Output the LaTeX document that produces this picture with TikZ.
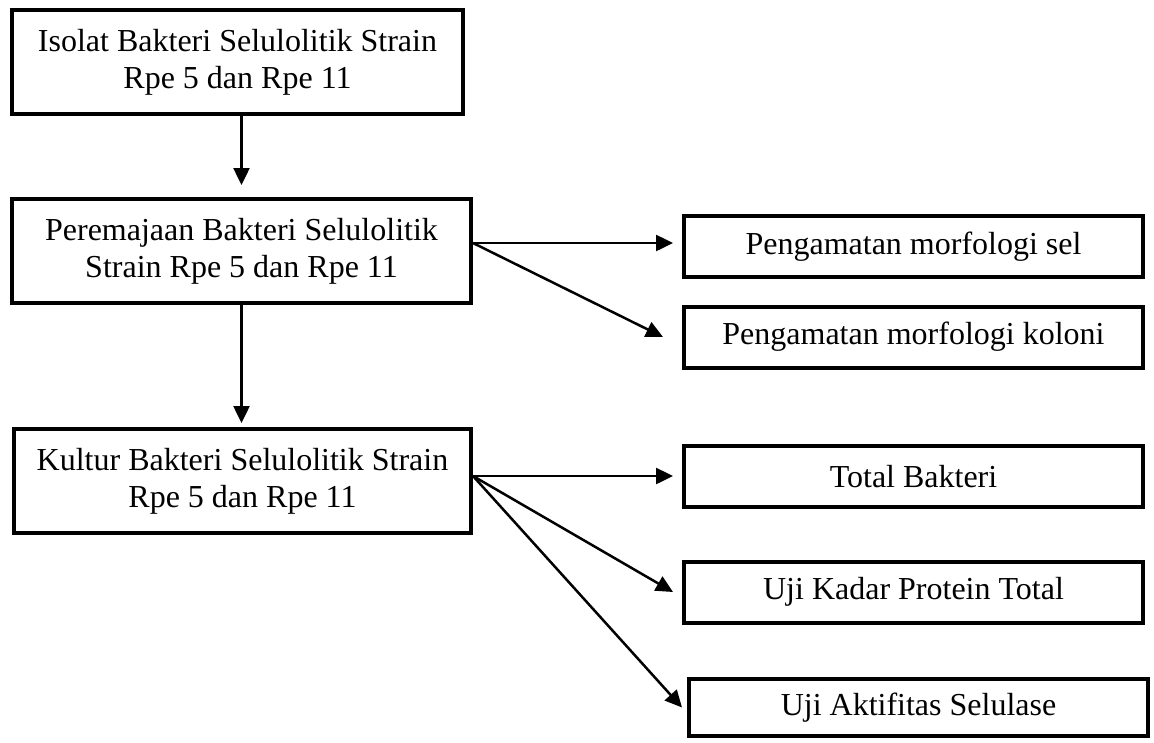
\documentclass[tikz,border=0pt]{standalone}
\usepackage{fontspec}
\setmainfont{Liberation Serif}
\usetikzlibrary{arrows.meta,positioning,calc}
\tikzset{
  flow/.style={-{Triangle[length=17pt,width=16pt]}, line width=2.5pt, draw=black},
  stage/.style={draw=black, fill=white, line width=4pt, align=center, inner sep=3pt,
                font=\fontsize{32}{37}\selectfont},
  mainbox/.style={stage, minimum height=104pt},
  sidebox/.style={stage, minimum width=459pt, minimum height=61pt},
}

\begin{document}
\begin{tikzpicture}[x=1pt,y=-1pt]
    \useasboundingbox (0,0) rectangle (1154,742);
    \node[mainbox,minimum width=451pt] (isolat) at (237.5,62) {Isolat Bakteri Selulolitik Strain\\Rpe 5 dan Rpe 11};
    \node[mainbox,minimum width=459pt] (remaja) at (241.5,251) {Peremajaan Bakteri Selulolitik\\Strain Rpe 5 dan Rpe 11};
    \node[mainbox,minimum width=457pt] (kultur) at (242.5,481) {Kultur Bakteri Selulolitik Strain\\Rpe 5 dan Rpe 11};
    \node[sidebox] (sel) at (913.5,246.5) {Pengamatan morfologi sel};
    \node[sidebox] (koloni) at (913.5,337) {Pengamatan morfologi koloni};
    \node[sidebox] (total) at (913.5,476.5) {Total Bakteri};
    \node[sidebox] (protein) at (913.5,592) {Uji Kadar Protein Total};
    \node[sidebox,minimum height=57pt] (aktif) at (918.5,707.5) {Uji Aktifitas Selulase};
    \coordinate (rOut) at ([yshift=8pt]remaja.east);
    \coordinate (kOut) at ([yshift=5pt]kultur.east);
    \draw[flow,shorten >=12pt] (remaja.north |- isolat.south) -- (remaja.north);
    \draw[flow,shorten >=4pt] (remaja.south) -- (remaja.south |- kultur.north);
    \draw[flow,shorten >=9pt] (rOut) -- (rOut -| sel.west);
    \draw[flow] (rOut) -- ([xshift=-19pt]koloni.west);
    \draw[flow,shorten >=9pt] (kOut) -- (kOut -| total.west);
    \draw[flow] (kOut) -- ([xshift=-9pt]protein.west);
    \draw[flow] (kOut) -- ([xshift=-5pt]aktif.west);
  \end{tikzpicture}
\end{document}
